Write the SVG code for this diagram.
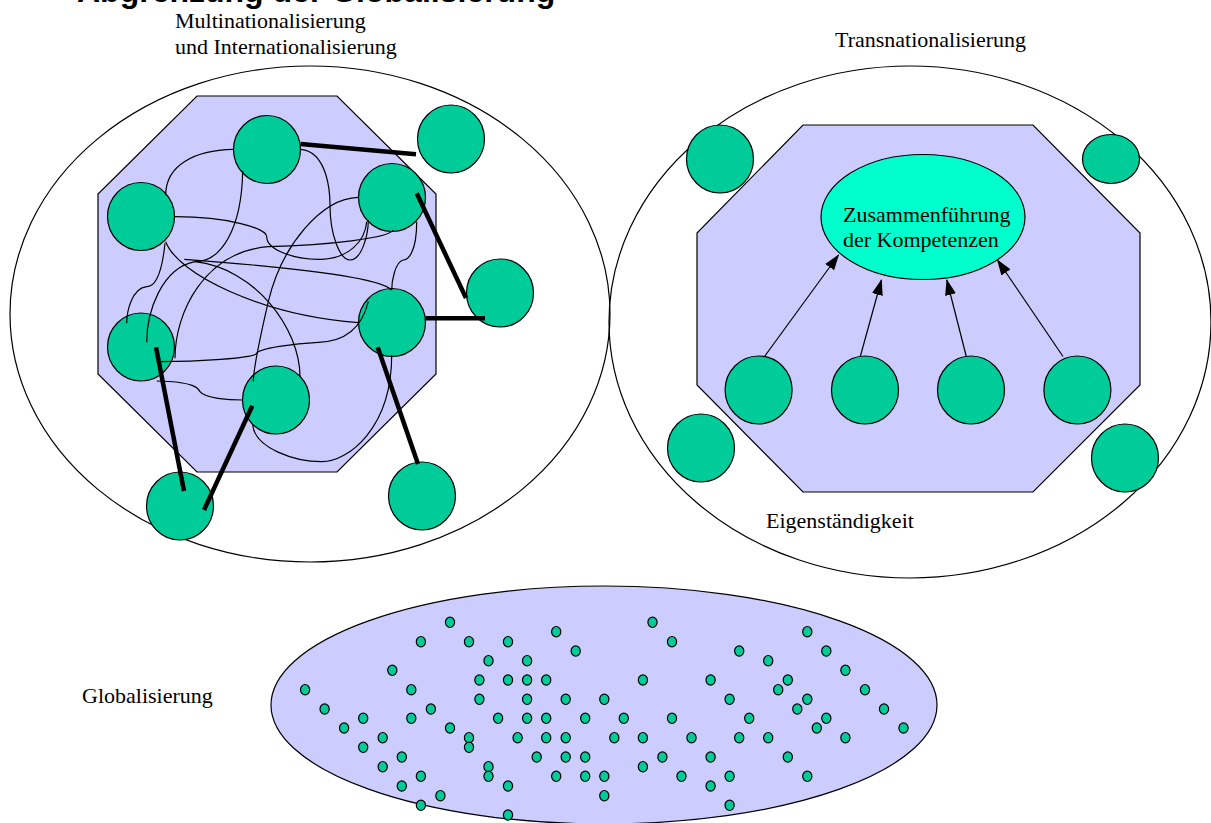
<svg xmlns="http://www.w3.org/2000/svg" width="1211" height="823" viewBox="0 0 1211 823">
<style>
.lbl{font-family:"Liberation Serif","Times New Roman",serif;font-size:22px;fill:#000}
.ttl{font-family:"Liberation Sans",Arial,sans-serif;font-size:32px;font-weight:bold;fill:#000}
.node{fill:#00CC99;stroke:#000;stroke-width:1.2}
.oct{fill:#CCCCFF;stroke:#000;stroke-width:1.2}
.ring{fill:none;stroke:#000;stroke-width:1.2}
.thin{fill:none;stroke:#000;stroke-width:1.2}
.thick{fill:none;stroke:#000;stroke-width:4.5}
.arrow{fill:none;stroke:#000;stroke-width:1.2;marker-end:url(#ah)}
.dot{fill:#00CC99;stroke:#000;stroke-width:1.2}
</style>
<defs>
<marker id="ah" viewBox="0 0 16 11" refX="15" refY="5.5" markerWidth="16" markerHeight="11" markerUnits="userSpaceOnUse" orient="auto"><path d="M0,0 L16,5.5 L0,11 z" fill="#000"/></marker>
</defs>
<rect width="1211" height="823" fill="#fff"/>
<text class="ttl" x="77" y="2">Abgrenzung der Globalisierung</text>

<!-- Left: Multinationalisierung -->
<g id="left-frame">
<ellipse class="ring" cx="310" cy="314" rx="300" ry="248"/>
<polygon class="oct" points="197,96 337,96 436,194 436,374 337,472 197,472 98,374 98,194"/>
</g>
<g id="lbl-multi"><text class="lbl" x="175" y="28">Multinationalisierung</text><text class="lbl" x="175" y="54">und Internationalisierung</text></g>
<g id="n1"><ellipse class="node" cx="267" cy="149.5" rx="33.5" ry="34"/></g>
<g id="n2"><ellipse class="node" cx="451" cy="139" rx="33.5" ry="34"/></g>
<g id="n3"><ellipse class="node" cx="141" cy="216.5" rx="33.5" ry="34"/></g>
<g id="n4"><ellipse class="node" cx="392" cy="197.5" rx="33.5" ry="34"/></g>
<g id="n5"><ellipse class="node" cx="500" cy="293" rx="33.5" ry="34"/></g>
<g id="n6"><ellipse class="node" cx="141" cy="347" rx="33.5" ry="34"/></g>
<g id="n7"><ellipse class="node" cx="392" cy="322.5" rx="33.5" ry="34"/></g>
<g id="n8"><ellipse class="node" cx="276" cy="400" rx="33.5" ry="34"/></g>
<g id="n9"><ellipse class="node" cx="180" cy="506" rx="33.5" ry="34"/></g>
<g id="n10"><ellipse class="node" cx="422" cy="496" rx="33.5" ry="34"/></g>

<g id="connectors-left">
<path class="thin" d="M233.3,149.3 C195,150 165.7,165 165.7,195"/>
<path class="thin" d="M242.7,171 C241.7,228 221.7,261.7 195,261.7 C161.7,268 146.7,311.7 146.7,342.3"/>
<path class="thin" d="M184.3,259.3 C261.7,265 378.3,275 391.7,290"/>
<path class="thin" d="M300.7,149.3 C328.3,151.7 330,195 330,205 C330,235 340,260 350,260 C361.7,260 368.3,235 368.3,220"/>
<path class="thin" d="M175,216.7 C228.3,216.7 266.7,228.3 266.7,236.7 C266.7,250 295,260 321.7,259.3 C348.3,258.3 365,241.7 366.7,221.7"/>
<path class="thin" d="M175,358.3 C175,311.7 205,251.7 268.3,246.7 C328.3,245 388.3,238.3 393.3,230"/>
<path class="thin" d="M358.3,197.3 C321.7,198.3 281.7,245 268.3,301.7 C258.3,345 253.3,368.3 253.3,381.7"/>
<path class="thin" d="M165.7,241.7 C178.3,275 261.7,315 358.3,322.7"/>
<path class="thin" d="M165,243.3 C161.7,275 155,286.7 146.7,286.7 C131.7,288.3 126.7,311.7 126.7,323.3"/>
<path class="thin" d="M416.7,221.7 C416.7,251.7 408.3,260 403.3,260 C395,261.7 391.7,281.7 391.7,290"/>
<path class="thin" d="M160,361.7 C195,361.7 255,358.3 256.7,353.3 C258.3,348.3 295,343.3 318.3,342.3 C345,341.7 361.7,328.3 368.3,301.7"/>
<path class="thin" d="M156.7,381 C195,381.7 198.3,388.3 200,391.7 C205,398.3 228.3,400 242.7,400"/>
<path class="thin" d="M300,376.7 C300,328.3 255,268.3 195,261.7"/>
<path class="thin" d="M252.7,425 C255,448.3 295,461.7 321.7,461.7 C348.3,461.7 391.7,428.3 391.7,355"/>
<line class="thick" x1="300.7" y1="144" x2="416" y2="154.3"/>
<line class="thick" x1="416.7" y1="193.3" x2="466" y2="298"/>
<line class="thick" x1="425.7" y1="318.3" x2="485" y2="318.3"/>
<line class="thick" x1="377.7" y1="347.3" x2="418" y2="464"/>
<line class="thick" x1="156" y1="347.3" x2="184" y2="491"/>
<line class="thick" x1="252.3" y1="405.7" x2="204" y2="510"/>
</g>

<!-- Right: Transnationalisierung -->
<g id="right-frame">
<ellipse class="ring" cx="910" cy="322" rx="301" ry="256"/>
<polygon class="oct" points="803,125 1033,125 1140,233 1140,385 1033,492 803,492 697,385 697,233"/>
</g>
<g id="lbl-trans"><text class="lbl" x="835" y="47">Transnationalisierung</text></g>
<g id="lbl-eigen"><text class="lbl" x="766" y="528">Eigenständigkeit</text></g>
<g id="core"><ellipse cx="923" cy="217" rx="102" ry="62.5" fill="#00FFCC" stroke="#000" stroke-width="1.2"/><text class="lbl" x="843" y="222">Zusammenführung</text><text class="lbl" x="843" y="247">der Kompetenzen</text></g>
<g id="r1"><ellipse class="node" cx="720" cy="159" rx="33.5" ry="34"/></g>
<g id="r2"><ellipse class="node" cx="1111" cy="159" rx="28.5" ry="24.5"/></g>
<g id="r3"><ellipse class="node" cx="701" cy="448" rx="33.5" ry="34"/></g>
<g id="r4"><ellipse class="node" cx="1125" cy="458" rx="33.5" ry="34"/></g>
<g id="r5"><ellipse class="node" cx="758.6" cy="390" rx="33.5" ry="34"/></g>
<g id="r6"><ellipse class="node" cx="865" cy="390" rx="33.5" ry="34"/></g>
<g id="r7"><ellipse class="node" cx="971" cy="390" rx="33.5" ry="34"/></g>
<g id="r8"><ellipse class="node" cx="1077.4" cy="390" rx="33.5" ry="34"/></g>
<g id="connectors-right">
<line class="arrow" x1="764.5" y1="356.5" x2="838.5" y2="255"/>
<line class="arrow" x1="860.3" y1="356.5" x2="881.4" y2="280"/>
<line class="arrow" x1="966.3" y1="356.5" x2="946.8" y2="280"/>
<line class="arrow" x1="1063" y1="356.5" x2="997.5" y2="260"/>
</g>

<!-- Bottom: Globalisierung -->
<g id="global-frame"><ellipse cx="604" cy="705" rx="333" ry="119" fill="#CCCCFF" stroke="#000" stroke-width="1.2"/></g>
<g id="lbl-global"><text class="lbl" x="82" y="703">Globalisierung</text></g>
<g id="dots">
<ellipse class="dot" cx="450" cy="622.3" rx="4.6" ry="5.2"/>
<ellipse class="dot" cx="652.5" cy="622.3" rx="4.6" ry="5.2"/>
<ellipse class="dot" cx="556.2" cy="631.7" rx="4.6" ry="5.2"/>
<ellipse class="dot" cx="807.3" cy="631.7" rx="4.6" ry="5.2"/>
<ellipse class="dot" cx="420.9" cy="641.7" rx="4.6" ry="5.2"/>
<ellipse class="dot" cx="469" cy="641.7" rx="4.6" ry="5.2"/>
<ellipse class="dot" cx="508" cy="641.7" rx="4.6" ry="5.2"/>
<ellipse class="dot" cx="672" cy="641.7" rx="4.6" ry="5.2"/>
<ellipse class="dot" cx="575.7" cy="651" rx="4.6" ry="5.2"/>
<ellipse class="dot" cx="739.2" cy="651" rx="4.6" ry="5.2"/>
<ellipse class="dot" cx="826.3" cy="651" rx="4.6" ry="5.2"/>
<ellipse class="dot" cx="488.5" cy="660.7" rx="4.6" ry="5.2"/>
<ellipse class="dot" cx="527.1" cy="660.7" rx="4.6" ry="5.2"/>
<ellipse class="dot" cx="768.2" cy="660.7" rx="4.6" ry="5.2"/>
<ellipse class="dot" cx="392.3" cy="670.3" rx="4.6" ry="5.2"/>
<ellipse class="dot" cx="845.4" cy="670.3" rx="4.6" ry="5.2"/>
<ellipse class="dot" cx="479.4" cy="680" rx="4.6" ry="5.2"/>
<ellipse class="dot" cx="508" cy="680" rx="4.6" ry="5.2"/>
<ellipse class="dot" cx="527.1" cy="680" rx="4.6" ry="5.2"/>
<ellipse class="dot" cx="546.2" cy="680" rx="4.6" ry="5.2"/>
<ellipse class="dot" cx="642.9" cy="680" rx="4.6" ry="5.2"/>
<ellipse class="dot" cx="710.6" cy="680" rx="4.6" ry="5.2"/>
<ellipse class="dot" cx="787.8" cy="680" rx="4.6" ry="5.2"/>
<ellipse class="dot" cx="305.1" cy="689.7" rx="4.6" ry="5.2"/>
<ellipse class="dot" cx="411.3" cy="689.7" rx="4.6" ry="5.2"/>
<ellipse class="dot" cx="778.2" cy="689.7" rx="4.6" ry="5.2"/>
<ellipse class="dot" cx="865" cy="689.7" rx="4.6" ry="5.2"/>
<ellipse class="dot" cx="479.4" cy="699.3" rx="4.6" ry="5.2"/>
<ellipse class="dot" cx="527.1" cy="699.3" rx="4.6" ry="5.2"/>
<ellipse class="dot" cx="565.7" cy="699.3" rx="4.6" ry="5.2"/>
<ellipse class="dot" cx="604.3" cy="699.3" rx="4.6" ry="5.2"/>
<ellipse class="dot" cx="729.6" cy="699.3" rx="4.6" ry="5.2"/>
<ellipse class="dot" cx="807.3" cy="699.3" rx="4.6" ry="5.2"/>
<ellipse class="dot" cx="324.6" cy="709" rx="4.6" ry="5.2"/>
<ellipse class="dot" cx="430.9" cy="709" rx="4.6" ry="5.2"/>
<ellipse class="dot" cx="797.3" cy="709" rx="4.6" ry="5.2"/>
<ellipse class="dot" cx="884" cy="709" rx="4.6" ry="5.2"/>
<ellipse class="dot" cx="363.2" cy="718.3" rx="4.6" ry="5.2"/>
<ellipse class="dot" cx="411.3" cy="718.3" rx="4.6" ry="5.2"/>
<ellipse class="dot" cx="498.1" cy="718.3" rx="4.6" ry="5.2"/>
<ellipse class="dot" cx="527.1" cy="718.3" rx="4.6" ry="5.2"/>
<ellipse class="dot" cx="546.2" cy="718.3" rx="4.6" ry="5.2"/>
<ellipse class="dot" cx="585.2" cy="718.3" rx="4.6" ry="5.2"/>
<ellipse class="dot" cx="623.8" cy="718.3" rx="4.6" ry="5.2"/>
<ellipse class="dot" cx="672" cy="718.3" rx="4.6" ry="5.2"/>
<ellipse class="dot" cx="749.2" cy="718.3" rx="4.6" ry="5.2"/>
<ellipse class="dot" cx="826.3" cy="718.3" rx="4.6" ry="5.2"/>
<ellipse class="dot" cx="344.1" cy="728" rx="4.6" ry="5.2"/>
<ellipse class="dot" cx="450" cy="728" rx="4.6" ry="5.2"/>
<ellipse class="dot" cx="816.8" cy="728" rx="4.6" ry="5.2"/>
<ellipse class="dot" cx="903.5" cy="728" rx="4.6" ry="5.2"/>
<ellipse class="dot" cx="382.7" cy="737.7" rx="4.6" ry="5.2"/>
<ellipse class="dot" cx="469" cy="737.7" rx="4.6" ry="5.2"/>
<ellipse class="dot" cx="517.6" cy="737.7" rx="4.6" ry="5.2"/>
<ellipse class="dot" cx="546.2" cy="737.7" rx="4.6" ry="5.2"/>
<ellipse class="dot" cx="565.7" cy="737.7" rx="4.6" ry="5.2"/>
<ellipse class="dot" cx="614.3" cy="737.7" rx="4.6" ry="5.2"/>
<ellipse class="dot" cx="642.9" cy="737.7" rx="4.6" ry="5.2"/>
<ellipse class="dot" cx="691.5" cy="737.7" rx="4.6" ry="5.2"/>
<ellipse class="dot" cx="739.2" cy="737.7" rx="4.6" ry="5.2"/>
<ellipse class="dot" cx="768.2" cy="737.7" rx="4.6" ry="5.2"/>
<ellipse class="dot" cx="845.4" cy="737.7" rx="4.6" ry="5.2"/>
<ellipse class="dot" cx="363.2" cy="747.3" rx="4.6" ry="5.2"/>
<ellipse class="dot" cx="469" cy="747.3" rx="4.6" ry="5.2"/>
<ellipse class="dot" cx="401.8" cy="757" rx="4.6" ry="5.2"/>
<ellipse class="dot" cx="536.7" cy="757" rx="4.6" ry="5.2"/>
<ellipse class="dot" cx="565.7" cy="757" rx="4.6" ry="5.2"/>
<ellipse class="dot" cx="585.2" cy="757" rx="4.6" ry="5.2"/>
<ellipse class="dot" cx="662.4" cy="757" rx="4.6" ry="5.2"/>
<ellipse class="dot" cx="710.6" cy="757" rx="4.6" ry="5.2"/>
<ellipse class="dot" cx="787.8" cy="757" rx="4.6" ry="5.2"/>
<ellipse class="dot" cx="382.7" cy="766.7" rx="4.6" ry="5.2"/>
<ellipse class="dot" cx="488.5" cy="766.7" rx="4.6" ry="5.2"/>
<ellipse class="dot" cx="642.9" cy="766.7" rx="4.6" ry="5.2"/>
<ellipse class="dot" cx="420.9" cy="776.3" rx="4.6" ry="5.2"/>
<ellipse class="dot" cx="488.5" cy="776.3" rx="4.6" ry="5.2"/>
<ellipse class="dot" cx="556.2" cy="776.3" rx="4.6" ry="5.2"/>
<ellipse class="dot" cx="585.2" cy="776.3" rx="4.6" ry="5.2"/>
<ellipse class="dot" cx="604.3" cy="776.3" rx="4.6" ry="5.2"/>
<ellipse class="dot" cx="681.5" cy="776.3" rx="4.6" ry="5.2"/>
<ellipse class="dot" cx="729.6" cy="776.3" rx="4.6" ry="5.2"/>
<ellipse class="dot" cx="807.3" cy="776.3" rx="4.6" ry="5.2"/>
<ellipse class="dot" cx="401.8" cy="786" rx="4.6" ry="5.2"/>
<ellipse class="dot" cx="508" cy="786" rx="4.6" ry="5.2"/>
<ellipse class="dot" cx="710.6" cy="786" rx="4.6" ry="5.2"/>
<ellipse class="dot" cx="440.4" cy="795.7" rx="4.6" ry="5.2"/>
<ellipse class="dot" cx="604.3" cy="795.7" rx="4.6" ry="5.2"/>
<ellipse class="dot" cx="420.9" cy="805.3" rx="4.6" ry="5.2"/>
<ellipse class="dot" cx="729.6" cy="805.3" rx="4.6" ry="5.2"/>
<ellipse class="dot" cx="508" cy="815" rx="4.6" ry="5.2"/>
</g>
</svg>
